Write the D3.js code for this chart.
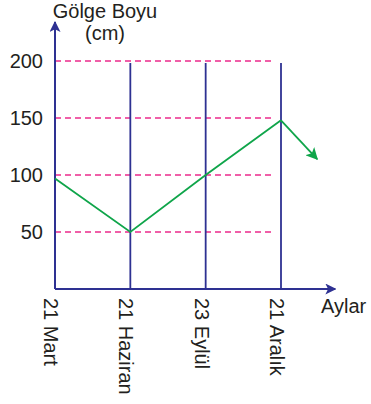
<!DOCTYPE html>
<html>
<head>
<meta charset="utf-8">
<script src="https://cdn.jsdelivr.net/npm/d3@7"></script>
<style>
  body { margin: 0; background: #fff; }
  text { font-family: "Liberation Sans", Arial, sans-serif; fill: #231f20; }
</style>
</head>
<body>
<div id="chart"></div>
<script>
// Gölge boyu / aylar
const months = ["21 Mart", "21 Haziran", "23 Eylül", "21 Aralık"];
const yTicks = [50, 100, 150, 200];
const shadowLen = [97, 50, 100, 148];
// continuation arrow after 21 Aralık
const trendIdx = [3, 3.48];
const trendVal = [148, 114];

const width = 371, height = 404;
const axisColor = "#2e3192", dashColor = "#ec2a8c", lineColor = "#0fa54a";

const svg = d3.select("#chart").append("svg")
    .attr("width", width)
    .attr("height", height);

const x = d3.scaleLinear().domain([0, 3]).range([55, 281]);
const y = d3.scaleLinear().domain([0, 200]).range([289, 61]);

const defs = svg.append("defs");
defs.append("marker")
    .attr("id", "axisArrow")
    .attr("viewBox", "0 0 10 10")
    .attr("refX", 9).attr("refY", 5)
    .attr("markerWidth", 11).attr("markerHeight", 11)
    .attr("markerUnits", "userSpaceOnUse")
    .attr("orient", "auto")
    .append("path")
    .attr("d", "M0,0 L10,5 L0,10 L2.5,5 Z")
    .attr("fill", axisColor);
defs.append("marker")
    .attr("id", "greenArrow")
    .attr("viewBox", "0 0 10 10")
    .attr("refX", 9).attr("refY", 5)
    .attr("markerWidth", 12).attr("markerHeight", 12)
    .attr("markerUnits", "userSpaceOnUse")
    .attr("orient", "auto")
    .append("path")
    .attr("d", "M0,0 L10,5 L0,10 L2.5,5 Z")
    .attr("fill", lineColor);

// dashed grid lines
svg.selectAll(".grid")
    .data(yTicks)
    .enter().append("line")
    .attr("class", "grid")
    .attr("x1", x(0)).attr("x2", x(3) - 6)
    .attr("y1", d => y(d)).attr("y2", d => y(d))
    .attr("stroke", dashColor)
    .attr("stroke-width", 1.5)
    .attr("stroke-dasharray", "6,4");

// vertical month lines
svg.selectAll(".month-line")
    .data(months.slice(1))
    .enter().append("line")
    .attr("class", "month-line")
    .attr("x1", (d, i) => x(i + 1)).attr("x2", (d, i) => x(i + 1))
    .attr("y1", y(0)).attr("y2", y(200) + 2)
    .attr("stroke", axisColor)
    .attr("stroke-width", 1.8);

// axes
svg.append("line")
    .attr("x1", x(0)).attr("x2", x(0))
    .attr("y1", y(0)).attr("y2", 22)
    .attr("stroke", axisColor).attr("stroke-width", 2)
    .attr("marker-end", "url(#axisArrow)");
svg.append("line")
    .attr("x1", x(0)).attr("x2", x(3.72))
    .attr("y1", y(0)).attr("y2", y(0))
    .attr("stroke", axisColor).attr("stroke-width", 2)
    .attr("marker-end", "url(#axisArrow)");

// y tick labels
const yAxis = d3.axisLeft(y).tickValues(yTicks).tickSize(0).tickPadding(12);
const yAxisG = svg.append("g")
    .attr("transform", `translate(${x(0)},0)`)
    .call(yAxis);
yAxisG.select(".domain").remove();
yAxisG.selectAll("text")
    .style("font-size", "20px")
    .style("font-family", "'Liberation Sans', Arial, sans-serif")
    .attr("fill", "#231f20");

// month labels (rotated)
svg.selectAll(".month-label")
    .data(months)
    .enter().append("text")
    .attr("class", "month-label")
    .attr("transform", (d, i) => `translate(${x(i) - 4},298) rotate(90)`)
    .attr("dy", "0.35em")
    .style("font-size", "20px")
    .text(d => d);

// shadow line
const line = d3.line()
    .x((d, i) => x(i))
    .y(d => y(d));
svg.append("path")
    .datum(shadowLen)
    .attr("d", line)
    .attr("fill", "none")
    .attr("stroke", lineColor)
    .attr("stroke-width", 1.8);

const trend = trendIdx.map((d, i) => [x(d), y(trendVal[i])]);
svg.append("path")
    .datum(trend)
    .attr("d", d3.line())
    .attr("fill", "none")
    .attr("stroke", lineColor)
    .attr("stroke-width", 1.8)
    .attr("marker-end", "url(#greenArrow)");

// axis titles
svg.append("text")
    .attr("x", 105).attr("y", 18)
    .attr("text-anchor", "middle")
    .style("font-size", "20px")
    .text("Gölge Boyu");
svg.append("text")
    .attr("x", 105).attr("y", 40)
    .attr("text-anchor", "middle")
    .style("font-size", "20px")
    .text("(cm)");
svg.append("text")
    .attr("x", 321).attr("y", 313)
    .style("font-size", "20px")
    .text("Aylar");
</script>
</body>
</html>
